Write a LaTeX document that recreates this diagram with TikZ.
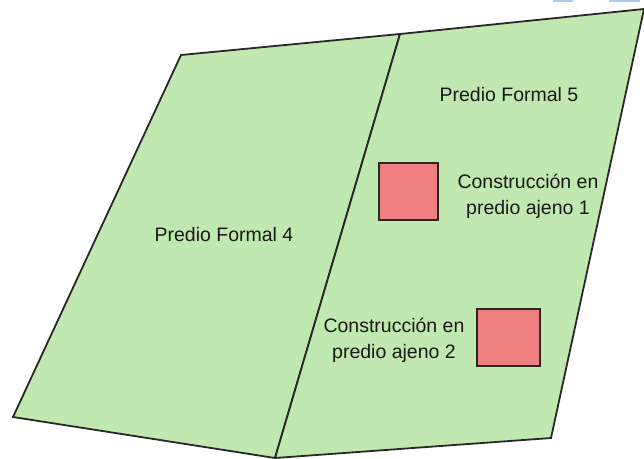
\documentclass[tikz,border=0pt]{standalone}
\usepackage{fontspec}
\setmainfont{Liberation Sans}
\usepackage{tikz}
\usepackage{xcolor}
\definecolor{predio}{RGB}{192,232,176}
\definecolor{ajeno}{RGB}{240,128,128}
\definecolor{borde}{RGB}{40,40,40}
\definecolor{marca}{RGB}{170,204,240}

\begin{document}
\begin{tikzpicture}[x=1pt,y=-1pt,line width=1.8pt,
  lbl/.style={font=\fontsize{19.5}{26}\selectfont,align=center,inner sep=0pt,text=black!90}]
  \useasboundingbox (0,0) rectangle (644,458);
  \path[fill=marca] (553,0) rectangle (573,2);
  \path[fill=marca] (609,0) rectangle (640,2);

  \draw[fill=predio,draw=borde] (181,55) -- (400,34) -- (275,458) -- (13,417) -- cycle;
  \draw[fill=predio,draw=borde] (400,34) -- (644,9) -- (551,438) -- (275,458) -- cycle;

  \draw[fill=ajeno,draw=borde] (379,163) rectangle (438,220);
  \draw[fill=ajeno,draw=borde] (477,309) rectangle (540,366);

  \node[lbl] (p4) at (224,235) {Predio Formal 4};
  \node[lbl] (p5) at (509,95) {Predio Formal 5};
  \node[lbl] (c1) at (528,196) {Construcción en\\predio ajeno 1};
  \node[lbl] (c2) at (394,340) {Construcción en\\predio ajeno 2};
\end{tikzpicture}
\end{document}
